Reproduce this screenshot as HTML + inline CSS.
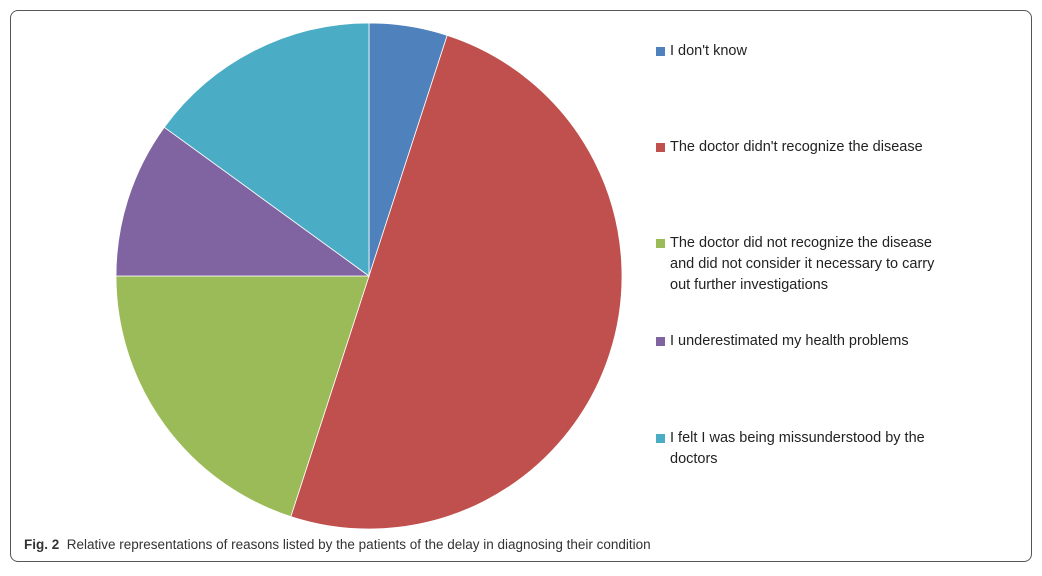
<!DOCTYPE html>
<html><head><meta charset="utf-8"><style>
body{margin:0;background:#fff;width:1042px;height:576px;overflow:hidden;font-family:"Liberation Sans",sans-serif}
#frame{position:absolute;left:10px;top:10px;width:1022px;height:552px;border:1.5px solid #555;border-radius:8px;box-sizing:border-box}
.leg{position:absolute;left:656px;font-size:14.5px;color:#222;line-height:21px}
.leg span.sw{position:absolute;left:0;top:6px;width:9px;height:9px}
.leg div{padding-left:14px;width:280px}
#cap{position:absolute;left:24px;top:537px;font-size:13.5px;color:#333}
</style></head><body>
<div id="frame"></div>
<svg id="pie" width="1042" height="576" style="position:absolute;left:0;top:0"></svg>
<div id="legend"></div>
<div id="cap"><b>Fig. 2</b>&nbsp; Relative representations of reasons listed by the patients of the delay in diagnosing their condition</div>
<script>
const categories=["I don't know","The doctor didn't recognize the disease","The doctor did not recognize the disease and did not consider it necessary to carry out further investigations","I underestimated my health problems","I felt I was being missunderstood by the doctors"];
const values=[5,50,20,10,15];
const colors=["#4f81bd","#c0504d","#9bbb59","#8064a2","#4bacc6"];
const legendTops=[41,137,233,331,428];
const cx=369,cy=276,r=253;
const svg=document.getElementById('pie');
const ns='http://www.w3.org/2000/svg';
const total=values.reduce((a,b)=>a+b,0);
let a0=0;
function pt(a){return [cx+r*Math.sin(a),cy-r*Math.cos(a)];}
values.forEach((v,i)=>{
  const a1=a0+v/total*2*Math.PI;
  const p0=pt(a0),p1=pt(a1);
  const large=(a1-a0)>Math.PI?1:0;
  const p=document.createElementNS(ns,'path');
  p.setAttribute('d',`M${cx},${cy}L${p0[0]},${p0[1]}A${r},${r} 0 ${large} 1 ${p1[0]},${p1[1]}Z`);
  p.setAttribute('fill',colors[i]);
  p.setAttribute('stroke','#fff');p.setAttribute('stroke-width','0.8');
  
  
  svg.appendChild(p);
  a0=a1;
});
const leg=document.getElementById('legend');
categories.forEach((c,i)=>{
  const d=document.createElement('div');
  d.className='leg';d.style.top=legendTops[i]+'px';
  
  
  d.innerHTML='<span class="sw" style="background:'+colors[i]+'"></span><div></div>';
  d.querySelector('div').textContent=c;
  leg.appendChild(d);
});
</script>
</body></html>
